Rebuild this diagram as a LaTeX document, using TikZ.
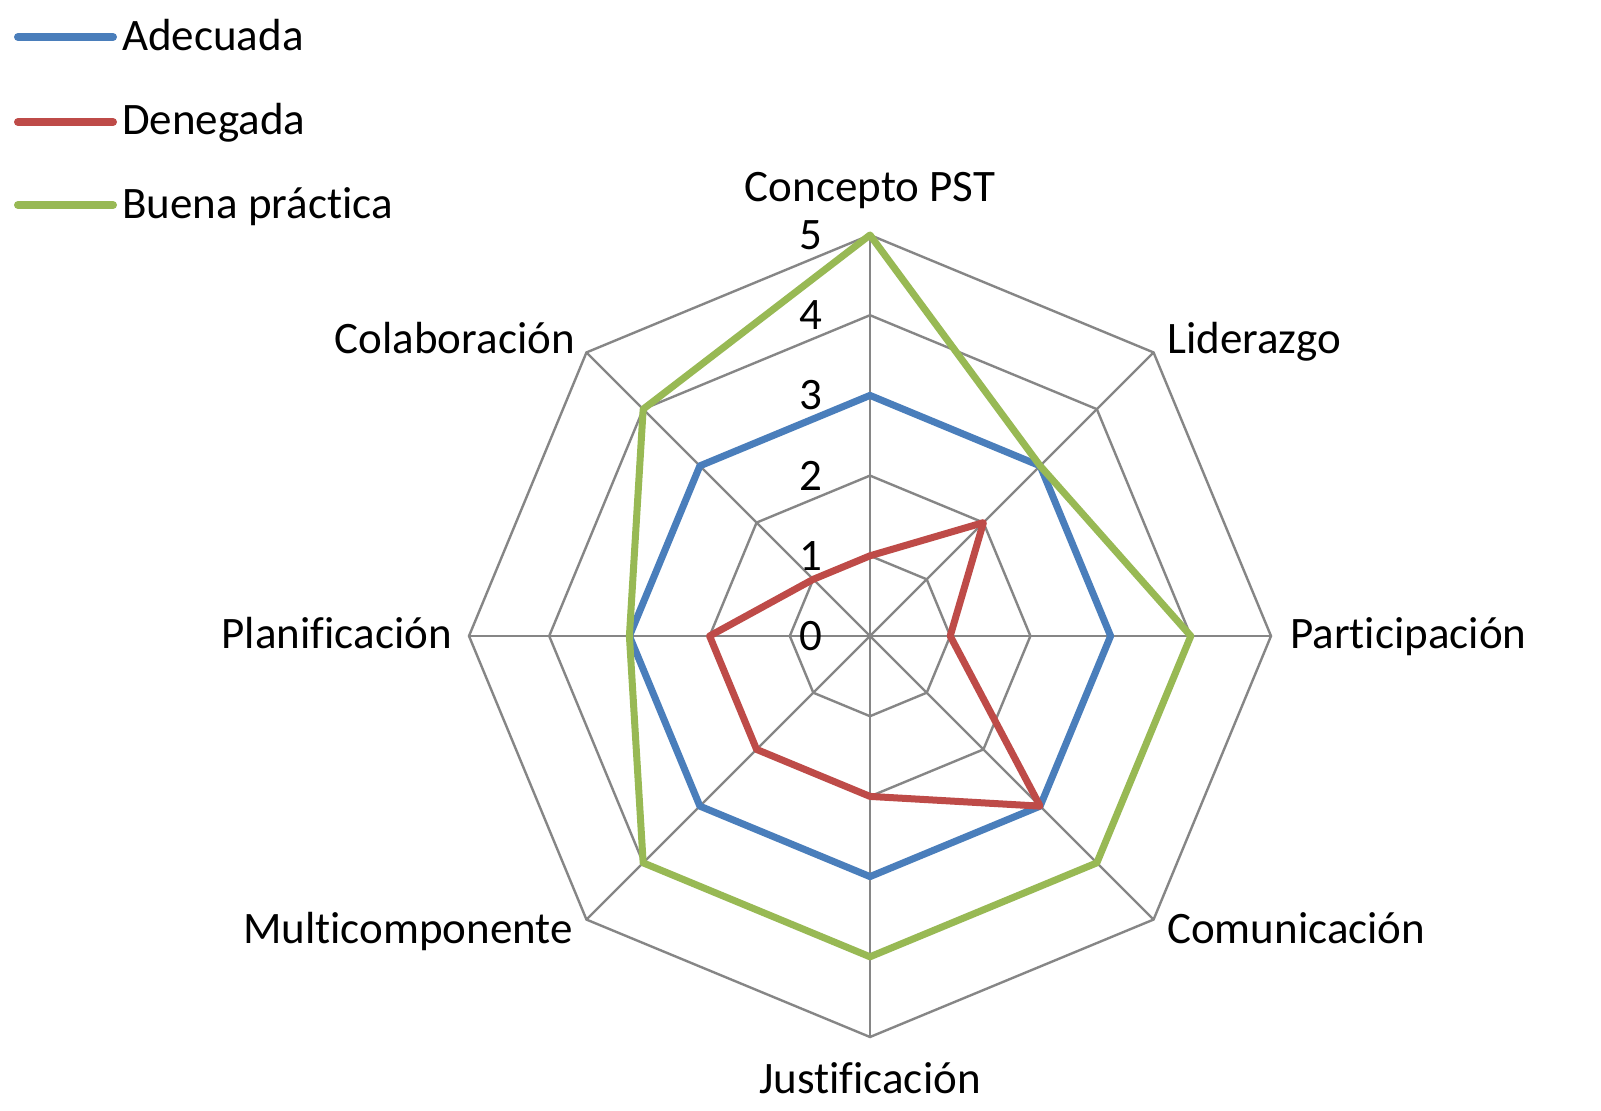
\documentclass[tikz,border=0pt]{standalone}
\usepackage{fontspec}
\setmainfont{Carlito}[Ligatures=NoCommon]
\definecolor{serA}{HTML}{4A7EBB}
\definecolor{serD}{HTML}{BE4B48}
\definecolor{serB}{HTML}{98B954}
\definecolor{gridc}{HTML}{868686}
\tikzset{
  gridline/.style={draw=gridc, line width=2.4pt},
  serie/.style={line width=7pt, line join=round, line cap=round},
  legline/.style={line width=8pt, line cap=round},
  lab/.style={inner sep=0pt, font=\fontsize{45}{50}\selectfont},
  num/.style={inner sep=0pt, font=\fontsize{45}{50}\selectfont}
}
\newcommand{\rp}[2]{({90-45*#1}:{#2*80.2})}
\begin{document}
\begin{tikzpicture}[x=1pt,y=-1pt]
\useasboundingbox[fill=white] (0,0) rectangle (1601,1111);
\begin{scope}[shift={(870,636)}, yscale=-1]
  \coordinate (O) at (0,0);
  % axis end points
  \foreach \k in {0,...,7}{
    \path \rp{\k}{5} coordinate (ax\k);
  }
  % grid octagons
  \foreach \l in {1,...,5}{
    \draw[gridline, line join=miter] \rp{0}{\l} -- \rp{1}{\l} -- \rp{2}{\l} -- \rp{3}{\l} -- \rp{4}{\l} -- \rp{5}{\l} -- \rp{6}{\l} -- \rp{7}{\l} -- cycle;
  }
  % axes
  \foreach \k in {0,...,7}{
    \draw[gridline] (O) -- (ax\k);
  }
  % series
  \draw[serie, serA] \rp{0}{3} -- \rp{1}{3} -- \rp{2}{3} -- \rp{3}{3} -- \rp{4}{3} -- \rp{5}{3} -- \rp{6}{3} -- \rp{7}{3} -- cycle;
  \draw[serie, serD] \rp{0}{1} -- \rp{1}{2} -- \rp{2}{1} -- \rp{3}{3} -- \rp{4}{2} -- \rp{5}{2} -- \rp{6}{2} -- \rp{7}{1} -- cycle;
  \draw[serie, serB] \rp{0}{5} -- \rp{1}{3} -- \rp{2}{4} -- \rp{3}{4} -- \rp{4}{4} -- \rp{5}{4} -- \rp{6}{3} -- \rp{7}{4} -- cycle;
\end{scope}
% scale numbers
\foreach \l in {0,...,5}{
  \node[num] (n\l) at (811,{636-80.2*\l}) {\l};
}
% category labels
\node[lab, anchor=base] (c0) at (870,201) {Concepto PST};
\node[lab, anchor=base west] (c1) at (1167,353) {Liderazgo};
\node[lab, anchor=base west] (c2) at (1290,648) {Participación};
\node[lab, anchor=base west] (c3) at (1167,943) {Comunicación};
\node[lab, anchor=base] (c4) at (870,1093) {Justificación};
\node[lab, anchor=base east] (c5) at (573,943) {Multicomponente};
\node[lab, anchor=base east] (c6) at (452,648) {Planificación};
\node[lab, anchor=base east] (c7) at (575,353) {Colaboración};
% legend
\coordinate (la1) at (18,37); \coordinate (la2) at (113,37);
\coordinate (ld1) at (18,122); \coordinate (ld2) at (113,122);
\coordinate (lb1) at (18,205); \coordinate (lb2) at (113,205);
\draw[legline, serA] (la1) -- (la2);
\draw[legline, serD] (ld1) -- (ld2);
\draw[legline, serB] (lb1) -- (lb2);
\node[lab, anchor=base west] (ta) at (122,50) {Adecuada};
\node[lab, anchor=base west] (td) at (122,134) {Denegada};
\node[lab, anchor=base west] (tb) at (122,218) {Buena práctica};
\end{tikzpicture}
\end{document}
